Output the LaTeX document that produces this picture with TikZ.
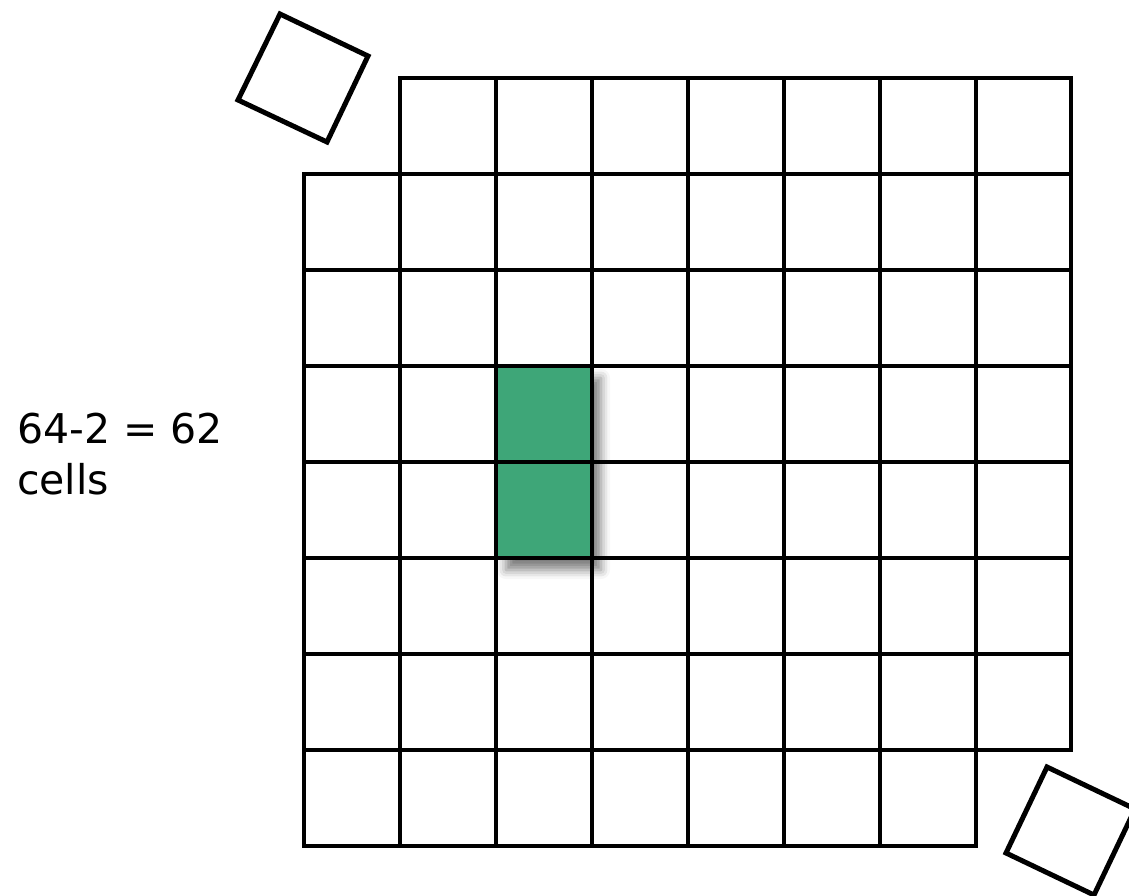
\documentclass[tikz,border=0pt]{standalone}
\usepackage{fontspec}
\setmainfont{DejaVu Sans}
\usetikzlibrary{shadows.blur}
\definecolor{cellgreen}{RGB}{62,166,120}
\tikzset{
  gridline/.style={line width=4pt, line cap=rect, black},
  tilted/.style={line width=5pt, line join=miter, black},
  domino/.style={fill=cellgreen, draw=none,
    blur shadow={shadow xshift=10pt, shadow yshift=-12pt, shadow blur radius=9pt, shadow opacity=50}},
  label/.style={font=\fontsize{41}{46}\selectfont, inner sep=0pt}
}
\begin{document}
\begin{tikzpicture}[x=1pt, y=-1pt]
\useasboundingbox (0,0) rectangle (1129,896);
\begin{scope}
\clip (0,0) rectangle (1129,896);
% green domino with shadow
\path[domino] (496,366) rectangle (591,558);
% horizontal lines
\draw[gridline] (399.5,78) -- (1071,78);
\foreach \j in {1,...,7} {
  \draw[gridline] (303.5,78+96*\j) -- (1071,78+96*\j);
}
\draw[gridline] (303.5,846) -- (975,846);
% vertical lines
\draw[gridline] (303.5,174) -- (303.5,846);
\foreach \i in {1,...,7} {
  \draw[gridline] (303.5+96*\i,78) -- (303.5+96*\i,846);
}
\draw[gridline] (1071,78) -- (1071,750);
% removed, tilted squares
\draw[tilted] (280,14) -- (368,56) -- (327,142) -- (238,100) -- cycle;
\draw[tilted] (1047,767) -- (1135,809) -- (1094,895) -- (1006,853) -- cycle;
\end{scope}
\node[label, anchor=base west] (line1) at (17,443) {64-2 = 62};
\node[label, anchor=base west] (line2) at (17,494) {cells};
\end{tikzpicture}
\end{document}
